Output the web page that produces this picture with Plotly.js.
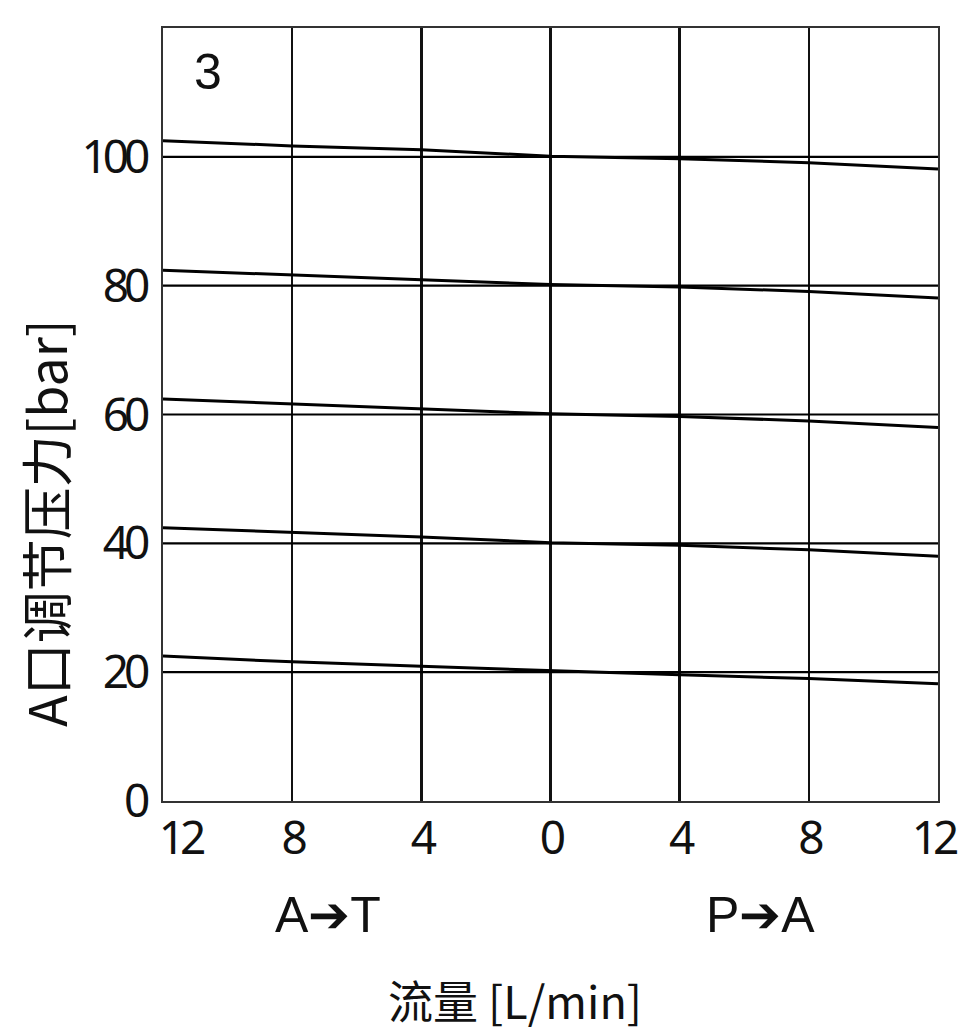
<!DOCTYPE html>
<html>
<head>
<meta charset="utf-8">
<script src="https://cdn.plot.ly/plotly-3.0.1.min.js"></script>
<style>
html,body{margin:0;padding:0;background:#fff;}
#chart{width:959px;height:1035px;}
#chart .xtick text, #chart .ytick text { letter-spacing: -5px; }
#chart .xaxislayer-above > g.xtick:first-of-type { transform: translateX(17px); }
#chart .xaxislayer-above > g.xtick:last-of-type { transform: translateX(-5px); }
</style>
</head>
<body>
<div id="chart"></div>
<script>
// Flow axis: negative = A→T, positive = P→A (labels shown as absolute values)
const flow = [-12, -8, -4, 0, 4, 8, 12];
const flowTickVals = [-12, -8, -4, 0, 4, 8, 12];
const flowTickText = ["12", "8", "4", "0", "4", "8", "12"];
const pressureTicks = [0, 20, 40, 60, 80, 100];

// Set pressure levels (flat reference lines)
const setLevels = [100, 80, 60, 40, 20];

// Regulated pressure curves (sloped lines)
const p100 = [102.5, 101.7, 101.1, 100.1, 99.7, 99.1, 98.1];
const p80  = [82.4, 81.6, 80.9, 80.2, 79.8, 79.1, 78.1];
const p60  = [62.4, 61.6, 60.9, 60.1, 59.7, 59.0, 58.0];
const p40  = [42.4, 41.7, 41.0, 40.1, 39.7, 39.0, 38.0];
const p20  = [22.5, 21.6, 20.9, 20.2, 19.6, 19.0, 18.2];
const curves = [p100, p80, p60, p40, p20];

const traces = [];
setLevels.forEach(function (lv) {
  traces.push({
    x: [flow[0], flow[flow.length - 1]], y: [lv, lv],
    mode: 'lines', line: {color: '#000', width: 2.2}, hoverinfo: 'skip', showlegend: false
  });
});
curves.forEach(function (c) {
  traces.push({
    x: flow, y: c, mode: 'lines', line: {color: '#000', width: 3},
    hoverinfo: 'skip', showlegend: false
  });
});

const numFont = {family: '"Noto Sans", sans-serif', size: 46, color: '#111'};

const layout = {
  width: 959, height: 1035,
  margin: {l: 163, r: 21, t: 28, b: 234},
  paper_bgcolor: '#fff', plot_bgcolor: '#fff',
  showlegend: false,
  xaxis: {
    range: [-12, 12], tickvals: flowTickVals, ticktext: flowTickText,
    showgrid: true, gridcolor: '#111', gridwidth: 2.6,
    zeroline: false, showline: true, mirror: true, linecolor: '#333', linewidth: 2.4,
    ticks: '', ticklabelstandoff: -5, ticklabeloverflow: 'allow', tickfont: numFont, fixedrange: true
  },
  yaxis: {
    range: [0, 120], tickvals: pressureTicks,
    showgrid: false, zeroline: false, showline: true, mirror: true,
    linecolor: '#333', linewidth: 2.4,
    ticks: '', ticklabelstandoff: 6, tickfont: numFont, fixedrange: true
  },
  annotations: [
    {text: '3', xref: 'x', yref: 'y', x: -10.6, y: 113.2, showarrow: false,
     font: {family: '"Liberation Sans", Arial, sans-serif', size: 50, color: '#111'}},
    {text: 'A➔T', xref: 'x', yref: 'paper', x: -6.9, y: -0.147, yanchor: 'middle', showarrow: false,
     font: {family: '"Liberation Sans", sans-serif', size: 50, color: '#111'}},
    {text: 'P➔A', xref: 'x', yref: 'paper', x: 6.5, y: -0.147, yanchor: 'middle', showarrow: false,
     font: {family: '"Liberation Sans", sans-serif', size: 50, color: '#111'}},
    {text: '流量 [L/min]', xref: 'paper', yref: 'paper', x: 0.454, y: -0.2574, yanchor: 'middle', showarrow: false,
     font: {family: '"Noto Sans CJK SC", sans-serif', size: 45, color: '#111'}},
    {text: 'A口调节压力[bar]', xref: 'paper', yref: 'paper', x: -0.152, y: 0.36, xanchor: 'center', yanchor: 'middle',
     textangle: -90, showarrow: false,
     font: {family: '"Noto Sans CJK SC", sans-serif', size: 52, color: '#111'}}
  ]
};

Plotly.newPlot('chart', traces, layout, {staticPlot: true, displayModeBar: false});
</script>
</body>
</html>
